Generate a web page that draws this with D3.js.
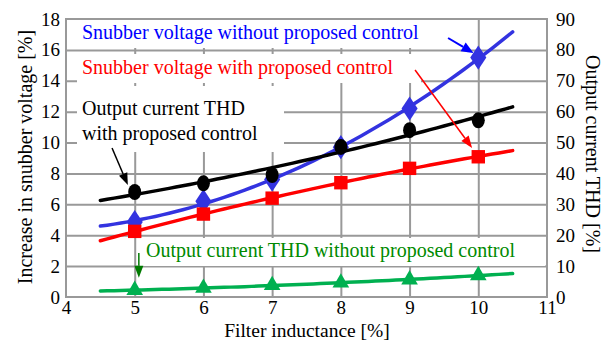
<!DOCTYPE html>
<html><head><meta charset="utf-8">
<script src="https://cdn.jsdelivr.net/npm/d3@7"></script>
</head>
<body style="margin:0;background:#fff"><svg id="c" width="616" height="341" font-family="Liberation Serif"></svg>
<script>
// ---- data ----
const inductance = [5, 6, 7, 8, 9, 10];                 // Filter inductance [%]
const snubberWithout = [4.85, 6.2, 7.6, 9.7, 12.2, 15.5];  // left axis [%]
const snubberWith = [4.25, 5.37, 6.4, 7.4, 8.33, 9.08];    // left axis [%]
const thdWith = [34, 36.8, 39.5, 48.6, 54, 57.2];          // right axis [%]
const thdWithout = [2.2, 2.9, 3.8, 4.6, 5.6, 7.0];         // right axis [%]
const trendRange = [4.5, 10.5];
const xTicks = [4, 5, 6, 7, 8, 9, 10, 11];
const leftTicks = [0, 2, 4, 6, 8, 10, 12, 14, 16, 18];
const rightTicks = [0, 10, 20, 30, 40, 50, 60, 70, 80, 90];
const labels = {
  x: "Filter inductance [%]",
  yl: "Increase in snubber voltage [%]",
  yr: "Output current THD [%]",
  blue: "Snubber voltage without proposed control",
  red: "Snubber voltage with proposed control",
  black1: "Output current THD",
  black2: "with proposed control",
  green: "Output current THD without proposed control"
};

// ---- layout ----
const FONT = "Liberation Serif";
const L = 66, R = 547, T = 19, B = 297;
const svg = d3.select("#c");
const x = d3.scaleLinear().domain([4, 11]).range([L, R]);
const yl = d3.scaleLinear().domain([0, 18]).range([B, T]);
const yr = d3.scaleLinear().domain([0, 90]).range([B, T]);
const GRID = "#999999";

function quadFit(xs, ys) {
  let S = [0,0,0,0,0], Sy = [0,0,0];
  xs.forEach((xv, i) => {
    for (let k = 0; k < 5; k++) S[k] += Math.pow(xv, k);
    for (let k = 0; k < 3; k++) Sy[k] += Math.pow(xv, k) * ys[i];
  });
  const M = [[S[0],S[1],S[2],Sy[0]],[S[1],S[2],S[3],Sy[1]],[S[2],S[3],S[4],Sy[2]]];
  for (let i = 0; i < 3; i++) for (let j = i+1; j < 3; j++) {
    const f = M[j][i] / M[i][i];
    for (let k = i; k < 4; k++) M[j][k] -= f * M[i][k];
  }
  const c = [0,0,0];
  for (let i = 2; i >= 0; i--) {
    let s = M[i][3];
    for (let k = i+1; k < 3; k++) s -= M[i][k] * c[k];
    c[i] = s / M[i][i];
  }
  return xv => c[0] + c[1]*xv + c[2]*xv*xv;
}
function trendPts(ys) {
  const f = quadFit(inductance, ys);
  const n = 60, pts = [];
  for (let i = 0; i <= n; i++) {
    const xv = trendRange[0] + (trendRange[1]-trendRange[0]) * i / n;
    pts.push([xv, f(xv)]);
  }
  return pts;
}

// gridlines
const grid = svg.append("g");
grid.append("g").attr("transform", `translate(${L},0)`)
  .call(d3.axisLeft(yl).tickValues(leftTicks.slice(1, -1)).tickSize(-(R-L)).tickFormat(""))
  .call(g => g.select(".domain").remove())
  .call(g => g.selectAll("line").attr("stroke", GRID).attr("stroke-width", 2));
grid.append("g").attr("transform", `translate(0,${B})`)
  .call(d3.axisBottom(x).tickValues(xTicks.slice(1, -1)).tickSize(-(B-T)).tickFormat(""))
  .call(g => g.select(".domain").remove())
  .call(g => g.selectAll("line").attr("stroke", GRID).attr("stroke-width", 2));
svg.append("rect").attr("x", L).attr("y", T).attr("width", R-L).attr("height", B-T)
  .attr("fill", "none").attr("stroke", GRID).attr("stroke-width", 2);

// axes tick labels
const fmt = d3.format("d");
const axFont = g => { g.attr("font-family", FONT);
  g.selectAll("text").attr("font-size", 19).attr("font-family", FONT).attr("fill", "#000"); };
svg.append("g").attr("transform", `translate(${L},0)`)
  .call(d3.axisLeft(yl).tickValues(leftTicks).tickFormat(fmt).tickSize(0).tickPadding(6))
  .call(g => g.select(".domain").remove()).call(axFont);
svg.append("g").attr("transform", `translate(${R},0)`)
  .call(d3.axisRight(yr).tickValues(rightTicks).tickFormat(fmt).tickSize(0).tickPadding(9))
  .call(g => g.select(".domain").remove()).call(axFont);
svg.append("g").attr("transform", `translate(0,${B})`)
  .call(d3.axisBottom(x).tickValues(xTicks).tickFormat(fmt).tickSize(0).tickPadding(4))
  .call(g => g.select(".domain").remove()).call(axFont);

// axis titles
svg.append("text").attr("x", 307).attr("y", 336.5).attr("text-anchor", "middle")
  .attr("font-family", FONT).attr("font-size", 19.5).text(labels.x);
svg.append("text").attr("transform", `translate(32,157) rotate(-90)`)
  .attr("text-anchor", "middle").attr("font-family", FONT).attr("font-size", 20).text(labels.yl);
svg.append("text").attr("transform", `translate(586,154) rotate(90)`)
  .attr("text-anchor", "middle").attr("font-family", FONT).attr("font-size", 20).text(labels.yr);

// annotation white boxes + texts
const ann = svg.append("g");
function box(x0, y0, x1, y1) {
  ann.append("rect").attr("x", x0).attr("y", y0).attr("width", x1-x0).attr("height", y1-y0).attr("fill", "#fff");
}
box(75, 20, 447, 48);
box(77, 54, 421, 83);
box(77, 86, 284, 152);
box(140, 238, 545, 266);
function txt(t, px, py, col) {
  ann.append("text").attr("x", px).attr("y", py).attr("font-family", FONT).attr("font-size", 20).attr("fill", col).text(t);
}
txt(labels.blue, 82, 39, "#0000ff");
txt(labels.red, 82, 74, "#ff0000");
txt(labels.black1, 82, 115, "#000");
txt(labels.black2, 82, 140, "#000");
txt(labels.green, 146, 257, "#008a00");

// series
const BLUE = "#3333e0", RED = "#ff0000", BLK = "#000", GRN = "#00b050";
const lineL = d3.line().x(d => x(d[0])).y(d => yl(d[1]));
const lineR = d3.line().x(d => x(d[0])).y(d => yr(d[1]));
const series = [
  {vals: snubberWithout, y: yl, line: lineL, color: BLUE, sym: d3.symbolDiamond, size: 170},
  {vals: snubberWith, y: yl, line: lineL, color: RED, sym: d3.symbolSquare, size: 180},
  {vals: thdWith, y: yr, line: lineR, color: BLK, sym: "ellipse"},
  {vals: thdWithout, y: yr, line: lineR, color: GRN, sym: d3.symbolTriangle, size: 120}
];
series.forEach(s => {
  const g = svg.append("g");
  g.append("path").attr("d", s.line(trendPts(s.vals))).attr("fill", "none")
    .attr("stroke", s.color).attr("stroke-width", 3.5).attr("stroke-linecap", "round");
  inductance.forEach((xv, i) => {
    const px = x(xv), py = s.y(s.vals[i]);
    if (s.sym === "ellipse") {
      g.append("ellipse").attr("cx", px).attr("cy", py).attr("rx", 6.5).attr("ry", 8).attr("fill", s.color);
    } else {
      g.append("path").attr("d", d3.symbol().type(s.sym).size(s.size)())
        .attr("transform", `translate(${px},${py})${s.sym === d3.symbolDiamond ? " scale(1.15,1)" : ""}`)
        .attr("fill", s.color);
    }
  });
});

// arrows (in data units, left axis)
function arrow(x0, y0, x1, y1, col, w, head) {
  const p0 = [x(x0), yl(y0)], p1 = [x(x1), yl(y1)];
  const a = Math.atan2(p1[1]-p0[1], p1[0]-p0[0]);
  const hl = head[0], hw = head[1];
  const base = [p1[0] - hl*Math.cos(a), p1[1] - hl*Math.sin(a)];
  svg.append("line").attr("x1", p0[0]).attr("y1", p0[1]).attr("x2", base[0]).attr("y2", base[1])
    .attr("stroke", col).attr("stroke-width", w);
  const n = [-Math.sin(a), Math.cos(a)];
  svg.append("path").attr("d", `M${p1[0]},${p1[1]}L${base[0]+n[0]*hw/2},${base[1]+n[1]*hw/2}L${base[0]-n[0]*hw/2},${base[1]-n[1]*hw/2}Z`)
    .attr("fill", col);
}
arrow(9.56, 16.77, 9.93, 15.8, "#0000ff", 2, [12, 10]);
arrow(9.08, 14.7, 9.91, 9.65, "#ff0000", 1.5, [12, 9]);
arrow(4.67, 9.65, 4.9, 7.25, "#000", 1.5, [12, 9]);
arrow(5.06, 2.85, 5.06, 1.24, "#007a00", 1.5, [12, 9]);
</script></body></html>
